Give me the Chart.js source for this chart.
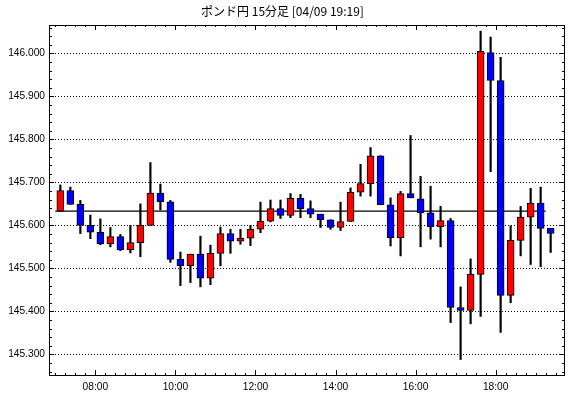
<!DOCTYPE html>
<html>
<head>
<meta charset="utf-8">
<script src="https://cdn.jsdelivr.net/npm/chart.js@4.4.1/dist/chart.umd.min.js"></script>
<style>
  html, body { margin: 0; padding: 0; background: #fff; }
  #wrap { width: 570px; height: 398px; }
</style>
</head>
<body>
<div id="wrap"><canvas id="chart" width="570" height="398"></canvas></div>
<script>
// ポンド円 15分足 - candles
const times = [
    '07:00', '07:15', '07:30', '07:45', '08:00', '08:15', '08:30', '08:45', '09:00', '09:15',
    '09:30', '09:45', '10:00', '10:15', '10:30', '10:45', '11:00', '11:15', '11:30', '11:45',
    '12:00', '12:15', '12:30', '12:45', '13:00', '13:15', '13:30', '13:45', '14:00', '14:15',
    '14:30', '14:45', '15:00', '15:15', '15:30', '15:45', '16:00', '16:15', '16:30', '16:45',
    '17:00', '17:15', '17:30', '17:45', '18:00', '18:15', '18:30', '18:45', '19:00', '19:15'
];
const opens = [
    145.633, 145.681, 145.649, 145.600, 145.584, 145.557, 145.574, 145.543, 145.560, 145.600,
    145.675, 145.655, 145.521, 145.506, 145.533, 145.477, 145.535, 145.581, 145.563, 145.570,
    145.591, 145.610, 145.639, 145.623, 145.663, 145.639, 145.626, 145.613, 145.595, 145.609,
    145.677, 145.697, 145.762, 145.648, 145.571, 145.674, 145.662, 145.629, 145.597, 145.611,
    145.409, 145.402, 145.486, 146.002, 145.937, 145.437, 145.565, 145.619, 145.652, 145.593
];
const highs = [
    145.694, 145.689, 145.658, 145.624, 145.615, 145.595, 145.579, 145.600, 145.650, 145.746,
    145.696, 145.658, 145.538, 145.533, 145.575, 145.554, 145.596, 145.591, 145.591, 145.600,
    145.654, 145.659, 145.659, 145.674, 145.672, 145.657, 145.626, 145.613, 145.654, 145.687,
    145.742, 145.781, 145.762, 145.664, 145.679, 145.809, 145.714, 145.691, 145.644, 145.616,
    145.457, 145.522, 146.052, 146.038, 145.991, 145.599, 145.644, 145.686, 145.689, 145.593
];
const lows = [
    145.632, 145.649, 145.581, 145.569, 145.555, 145.550, 145.541, 145.536, 145.527, 145.600,
    145.636, 145.514, 145.460, 145.467, 145.457, 145.462, 145.506, 145.535, 145.556, 145.553,
    145.583, 145.608, 145.616, 145.618, 145.618, 145.618, 145.595, 145.591, 145.588, 145.609,
    145.668, 145.668, 145.648, 145.552, 145.529, 145.664, 145.550, 145.568, 145.550, 145.374,
    145.288, 145.371, 145.388, 145.725, 145.351, 145.420, 145.529, 145.509, 145.504, 145.537
];
const closes = [
    145.681, 145.649, 145.600, 145.584, 145.557, 145.574, 145.543, 145.560, 145.600, 145.675,
    145.655, 145.521, 145.506, 145.533, 145.477, 145.535, 145.581, 145.563, 145.570, 145.591,
    145.610, 145.639, 145.623, 145.663, 145.639, 145.626, 145.613, 145.595, 145.609, 145.677,
    145.697, 145.762, 145.648, 145.571, 145.674, 145.664, 145.629, 145.597, 145.611, 145.409,
    145.402, 145.486, 146.005, 145.937, 145.437, 145.565, 145.619, 145.652, 145.593, 145.581
];
const refLevel = 145.633; // horizontal line (day open)

const xTickLabels = ['08:00', '10:00', '12:00', '14:00', '16:00', '18:00'];
const yTickValues = [145.3, 145.4, 145.5, 145.6, 145.7, 145.8, 145.9, 146.0];

function toMin(t) {
    var p = t.split(':');
    return parseInt(p[0], 10) * 60 + parseInt(p[1], 10);
}
function fromMin(m) {
    var h = Math.floor(m / 60), mm = m % 60;
    return (h < 10 ? '0' : '') + h + ':' + (mm < 10 ? '0' : '') + mm;
}

// candles are drawn in the middle of their 15 minute slot
const bodies = times.map(function(t, i) {
    return { x: toMin(t) + 7.5, y: [opens[i], closes[i]] };
});
const wicks = times.map(function(t, i) {
    return { x: toMin(t) + 7.5, y: [lows[i], highs[i]] };
});
const bodyColors = times.map(function(t, i) {
    return closes[i] >= opens[i] ? '#ff0000' : '#0000ff';
});

// frame with small inward ticks on all four sides
const frameTicks = {
    id: 'frameTicks',
    afterDraw(chart) {
        const ctx = chart.ctx;
        const a = chart.chartArea;
        const xs = chart.scales.x, ys = chart.scales.y;
        ctx.save();
        ctx.strokeStyle = '#000';
        ctx.lineWidth = 1;
        ctx.beginPath();
        // y ticks every 0.02
        var k0 = Math.ceil(ys.min / 0.02), k1 = Math.floor(ys.max / 0.02);
        for (var k = k0; k <= k1; k++) {
            var py = Math.round(ys.getPixelForValue(k * 0.02)) + 0.5;
            var len = (k % 5 === 0) ? 5 : 3;
            ctx.moveTo(a.left, py); ctx.lineTo(a.left + len, py);
            ctx.moveTo(a.right, py); ctx.lineTo(a.right - len, py);
        }
        // x ticks every 15 minutes
        var m0 = Math.ceil(xs.min / 15), m1 = Math.floor(xs.max / 15);
        for (var m = m0; m <= m1; m++) {
            var px = Math.round(xs.getPixelForValue(m * 15)) + 0.5;
            var l2 = (m % 8 === 0) ? 5 : 2;
            ctx.moveTo(px, a.bottom); ctx.lineTo(px, a.bottom - l2);
            ctx.moveTo(px, a.top); ctx.lineTo(px, a.top + l2);
        }
        ctx.stroke();
        ctx.strokeRect(a.left + 0.5, a.top + 0.5, a.right - a.left - 1, a.bottom - a.top);
        ctx.restore();
    }
};

const ctx = document.getElementById('chart').getContext('2d');
const chart = new Chart(ctx, {
    type: 'bar',
    data: {
        datasets: [
            {
                label: 'body',
                data: bodies,
                backgroundColor: bodyColors,
                borderColor: '#000',
                borderWidth: 1,
                borderSkipped: false,
                barThickness: 7,
                grouped: false,
                order: 0
            },
            {
                label: 'wick',
                data: wicks,
                backgroundColor: '#000',
                borderWidth: 0,
                barThickness: 1.5,
                grouped: false,
                order: 1
            },
            {
                type: 'line',
                label: 'ref',
                data: [
                    { x: toMin(times[0]), y: refLevel },
                    { x: toMin(times[times.length - 1]), y: refLevel }
                ],
                borderColor: '#000',
                borderWidth: 1.2,
                pointRadius: 0,
                order: 2
            }
        ]
    },
    options: {
        responsive: false,
        animation: false,
        layout: {
            padding: { left: 0, right: 5, top: 0, bottom: 0 }
        },
        plugins: {
            legend: { display: false },
            tooltip: { enabled: false },
            title: {
                display: true,
                text: 'ポンド円 15分足 [04/09 19:19]',
                color: '#000',
                font: { family: '"Noto Sans CJK JP", "Noto Sans", sans-serif', size: 12, weight: 'normal', lineHeight: 1.2 },
                padding: { top: 4, bottom: 6.6 }
            }
        },
        scales: {
            x: {
                type: 'linear',
                offset: false,
                min: 410.5,
                max: 1184,
                grid: { display: false, drawTicks: false, offset: false },
                border: { display: false },
                afterBuildTicks: function(scale) {
                    scale.ticks = xTickLabels.map(function(t) { return { value: toMin(t) }; });
                },
                afterFit: function(scale) { scale.height = 23; },
                ticks: {
                    color: '#000',
                    padding: 6,
                    maxRotation: 0,
                    autoSkip: false,
                    font: { family: '"Liberation Sans", Arial, sans-serif', size: 10.2 },
                    callback: function(v) { return fromMin(v); }
                }
            },
            y: {
                min: 145.252,
                max: 146.066,
                grid: { color: '#000', lineWidth: 1, drawTicks: false },
                border: { display: false, dash: [1, 2] },
                afterBuildTicks: function(scale) {
                    scale.ticks = yTickValues.map(function(v) { return { value: v }; });
                },
                afterFit: function(scale) { scale.width = 49; },
                ticks: {
                    color: '#000',
                    padding: 4,
                    font: { family: '"Liberation Sans", Arial, sans-serif', size: 10.2 },
                    callback: function(v) { return Number(v).toFixed(3); }
                }
            }
        }
    },
    plugins: [frameTicks]
});
</script>
</body>
</html>
